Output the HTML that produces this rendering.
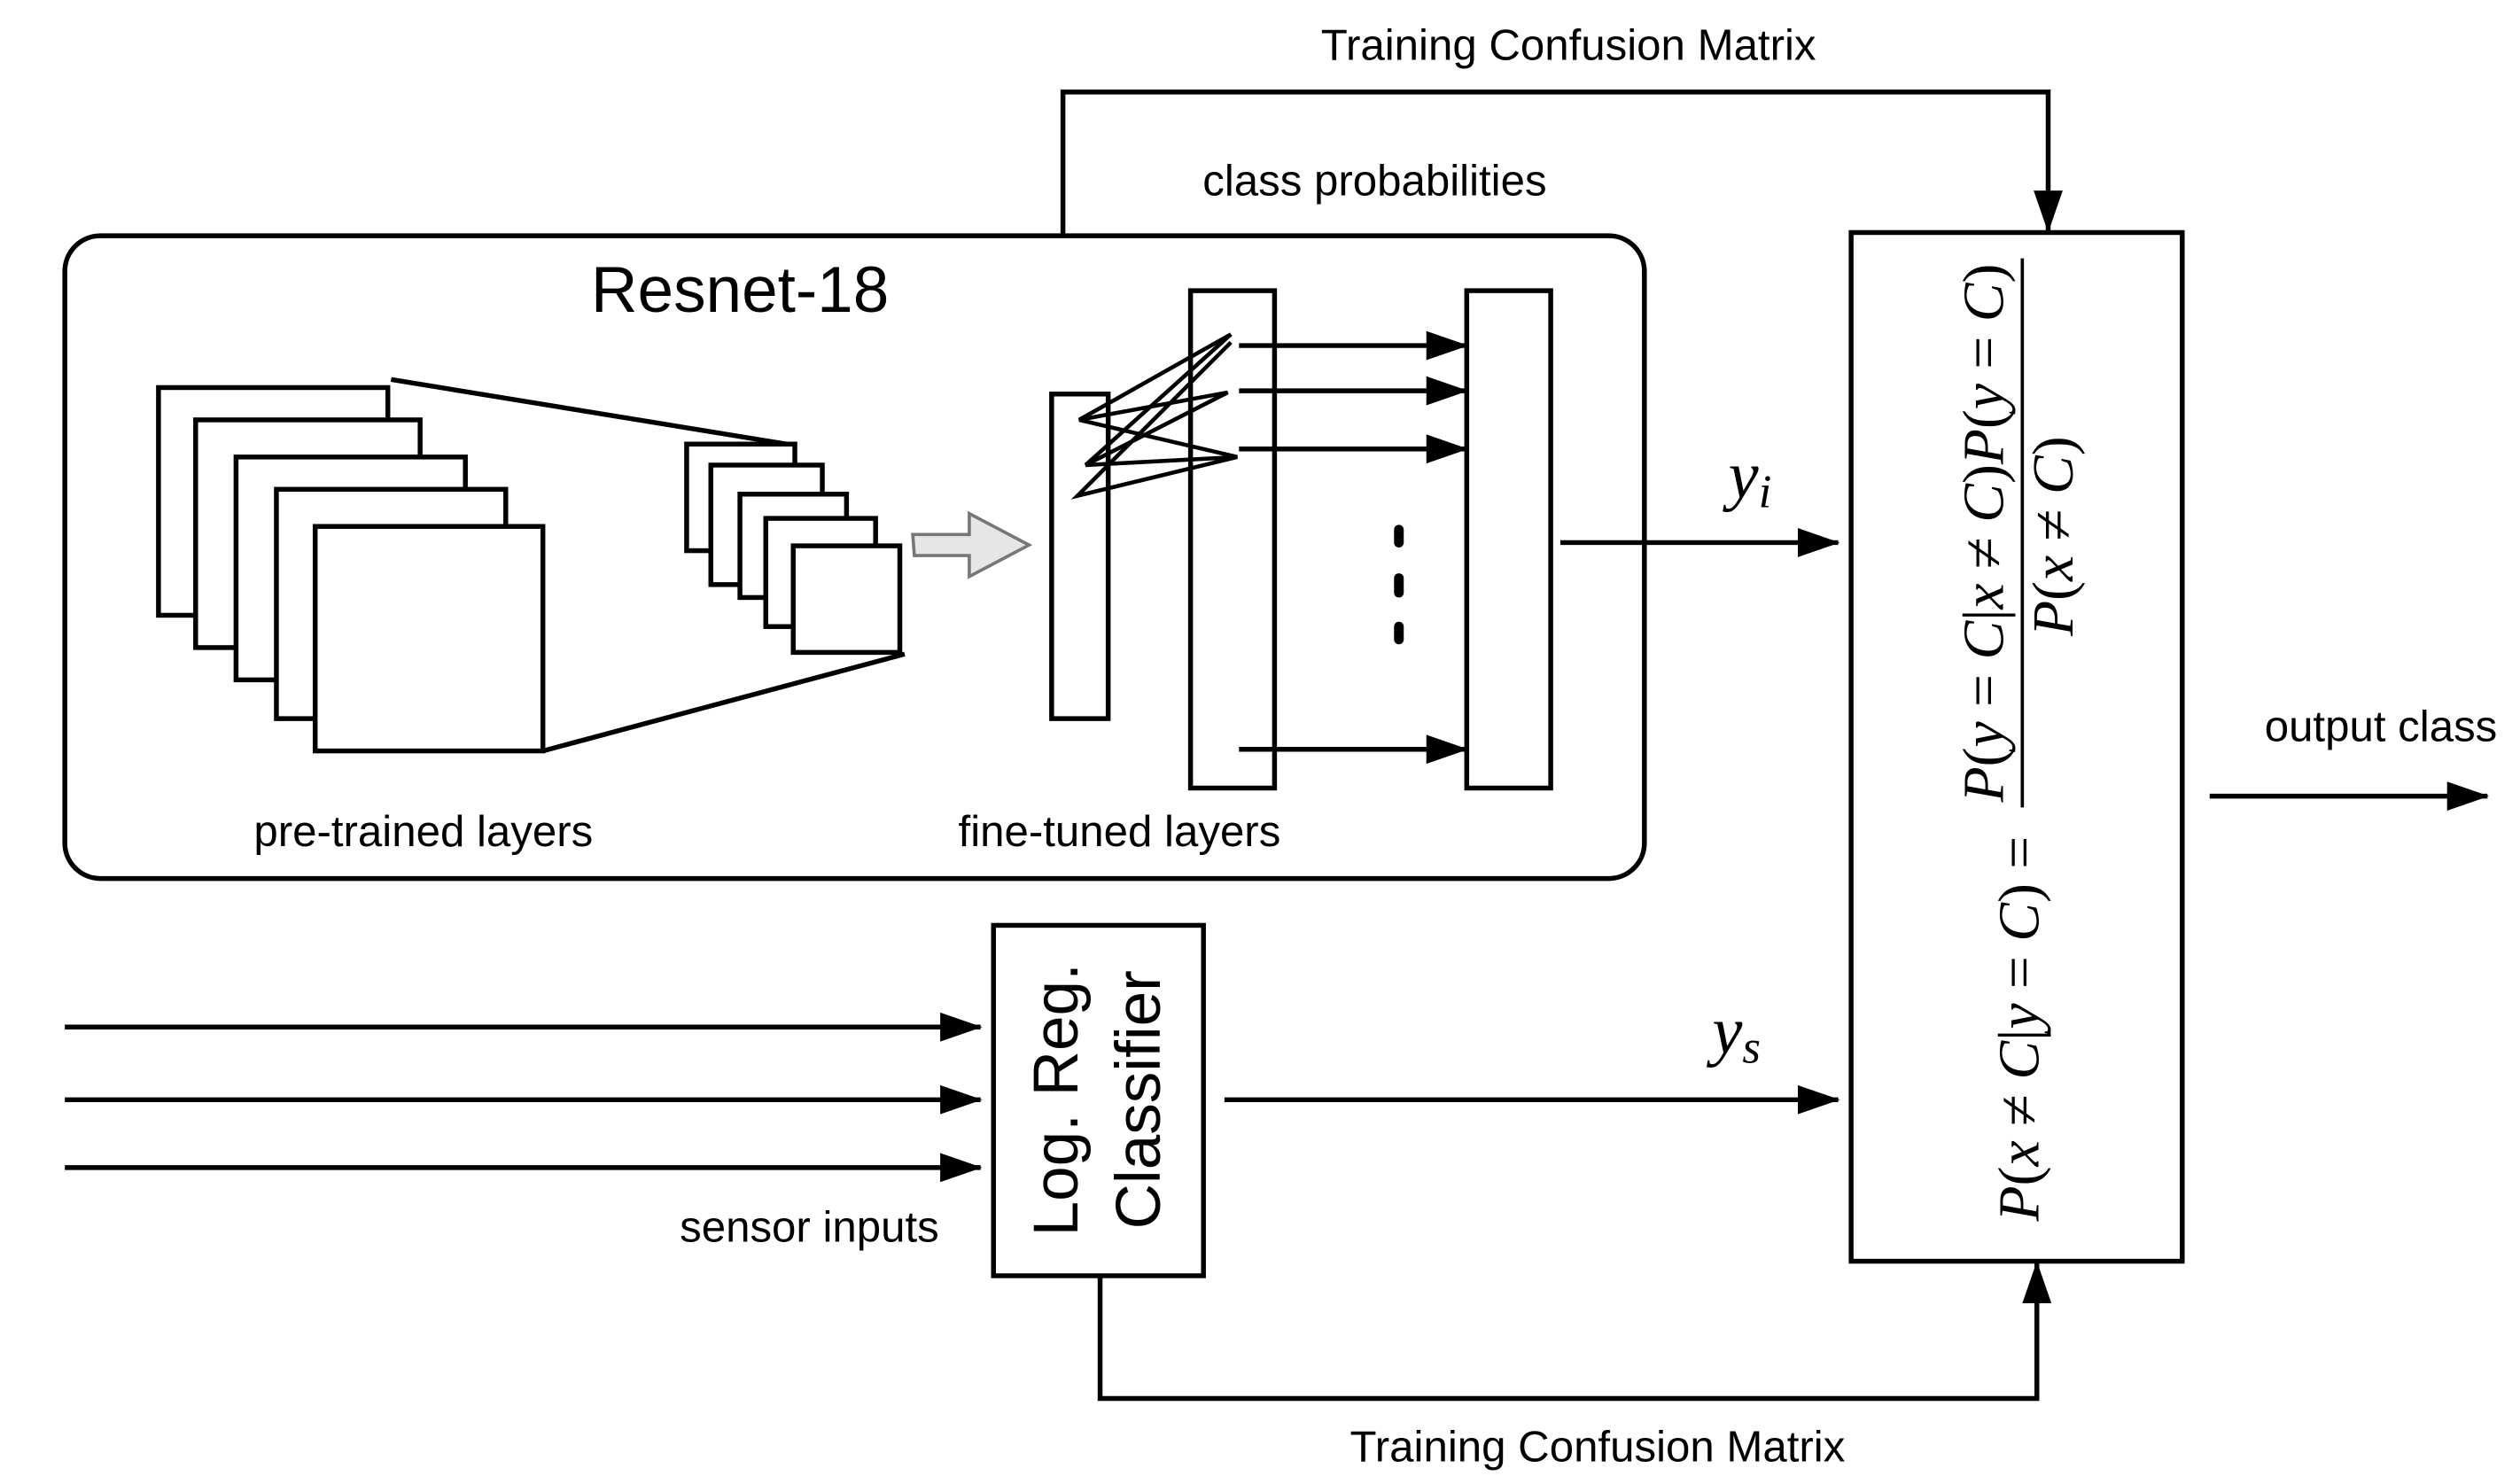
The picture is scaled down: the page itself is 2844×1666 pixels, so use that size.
<!DOCTYPE html>
<html><head><meta charset="utf-8"><style>html,body{margin:0;padding:0;background:#fff}svg{display:block}</style></head>
<body>
<svg width="2844" height="1666" viewBox="0 0 1560 914" xmlns="http://www.w3.org/2000/svg" font-family="Liberation Sans, sans-serif">
<defs>
<marker id="ab" markerWidth="26" markerHeight="18" refX="25" refY="9" orient="auto" markerUnits="userSpaceOnUse" viewBox="0 0 26 18">
<path d="M0,0 L26,9 L0,18 z" fill="#000"/></marker>
</defs>
<g stroke="#000" stroke-width="3" fill="none">
<polyline points="658,145 658,57 1268,57 1268,143" marker-end="url(#ab)"/>
<rect x="40" y="146" width="978" height="398" rx="22" fill="#fff"/>
<rect x="98" y="240" width="142" height="141" fill="#fff"/>
<rect x="121" y="260" width="139" height="141" fill="#fff"/>
<rect x="146" y="283" width="142" height="138" fill="#fff"/>
<rect x="171" y="303" width="142" height="142" fill="#fff"/>
<rect x="195" y="326" width="141" height="139" fill="#fff"/>
<line x1="242" y1="235" x2="493" y2="276"/>
<line x1="336" y1="465" x2="560" y2="405"/>
<rect x="425" y="275" width="67" height="66" fill="#fff"/>
<rect x="440" y="288" width="69" height="74" fill="#fff"/>
<rect x="458" y="306" width="66" height="64" fill="#fff"/>
<rect x="474" y="321" width="68" height="67" fill="#fff"/>
<rect x="491" y="338" width="66" height="66" fill="#fff"/>
<rect x="651" y="244" width="35" height="201" fill="#fff"/>
<rect x="737" y="180" width="52" height="308" fill="none"/>
<rect x="908" y="180" width="52" height="308" fill="#fff"/>
<polyline points="762,207 668,260 760,243 672,288 766,283 667,307 762,212" stroke-width="2.5"/>
<line x1="668" y1="260" x2="766" y2="283" stroke-width="2.5"/>
<line x1="672" y1="288" x2="762" y2="207" stroke-width="2.5"/>
<line x1="767" y1="214" x2="908" y2="214" marker-end="url(#ab)"/>
<line x1="767" y1="242" x2="908" y2="242" marker-end="url(#ab)"/>
<line x1="767" y1="278" x2="908" y2="278" marker-end="url(#ab)"/>
<line x1="767" y1="464" x2="908" y2="464" marker-end="url(#ab)"/>
<g stroke-width="6" stroke-linecap="round">
<line x1="866" y1="328" x2="866" y2="336"/>
<line x1="866" y1="358" x2="866" y2="367"/>
<line x1="866" y1="388" x2="866" y2="396"/>
</g>
<line x1="966" y1="336" x2="1138" y2="336" marker-end="url(#ab)"/>
<rect x="1146" y="144" width="205" height="637" fill="#fff"/>
<line x1="1252" y1="160" x2="1252" y2="500" stroke-width="2"/>
<rect x="615" y="573" width="130" height="217" fill="#fff"/>
<line x1="758" y1="681" x2="1138" y2="681" marker-end="url(#ab)"/>
<line x1="40" y1="636" x2="607" y2="636" marker-end="url(#ab)"/>
<line x1="40" y1="681" x2="607" y2="681" marker-end="url(#ab)"/>
<line x1="40" y1="723" x2="607" y2="723" marker-end="url(#ab)"/>
<polyline points="681,790 681,866 1261,866 1261,782" marker-end="url(#ab)"/>
<line x1="1368" y1="493" x2="1540" y2="493" marker-end="url(#ab)"/>
</g>
<path d="M565,331 L600,331 L600,318 L637,337.5 L600,357 L600,344 L566,344 z" fill="#e6e6e6" stroke="#777" stroke-width="2"/>
<g fill="#000" font-size="27" text-anchor="middle">
<text x="971" y="37">Training Confusion Matrix</text>
<text x="851" y="121">class probabilities</text>
<text x="458" y="193" font-size="40">Resnet-18</text>
<text x="262" y="524">pre-trained layers</text>
<text x="693" y="524">fine-tuned layers</text>
<text x="501" y="769">sensor inputs</text>
<text x="989" y="905">Training Confusion Matrix</text>
<text x="1474" y="459">output class</text>
</g>
<g font-family="Liberation Serif, serif" font-style="italic" font-size="42" fill="#000">
<text x="1070" y="308">y<tspan font-size="29" dy="6">i</tspan></text>
<text x="1060" y="652">y<tspan font-size="29" dy="6">s</tspan></text>
</g>
<g font-family="Liberation Sans, sans-serif" font-size="39" fill="#000" text-anchor="middle">
<text transform="translate(667,681) rotate(-90)">Log. Reg.</text>
<text transform="translate(718,681) rotate(-90)">Classifier</text>
</g>
<g font-family="Liberation Serif, serif" font-size="36" fill="#000" text-anchor="middle">
<text transform="translate(1240,330) rotate(-90)"><tspan font-style="italic">P</tspan>(<tspan font-style="italic">y</tspan> = <tspan font-style="italic">C</tspan>|<tspan font-style="italic">x</tspan> ≠ <tspan font-style="italic">C</tspan>)<tspan font-style="italic">P</tspan>(<tspan font-style="italic">y</tspan> = <tspan font-style="italic">C</tspan>)</text>
<text transform="translate(1283,332) rotate(-90)"><tspan font-style="italic">P</tspan>(<tspan font-style="italic">x</tspan> ≠ <tspan font-style="italic">C</tspan>)</text>
<text transform="translate(1262,637) rotate(-90)"><tspan font-style="italic">P</tspan>(<tspan font-style="italic">x</tspan> ≠ <tspan font-style="italic">C</tspan>|<tspan font-style="italic">y</tspan> = <tspan font-style="italic">C</tspan>) =</text>
</g>
</svg>
</body></html>
